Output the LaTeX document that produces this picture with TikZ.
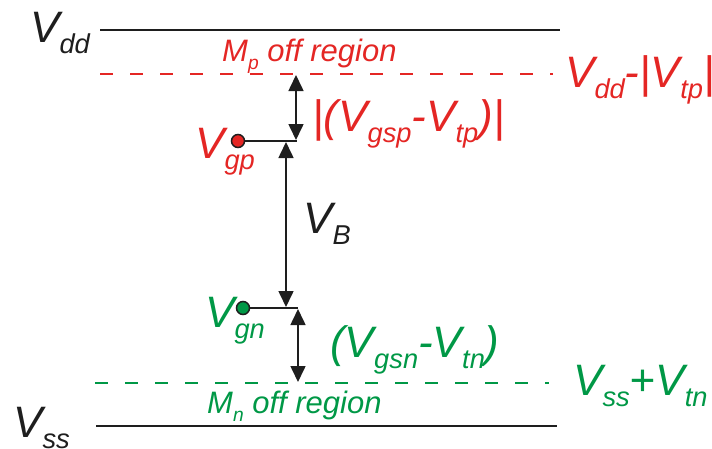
\documentclass[tikz,border=0pt]{standalone}
\usepackage{fontspec}
\setmainfont{Liberation Sans}
\usepackage{graphicx}
\usepackage{xcolor}
\usepackage{tikz}
\usetikzlibrary{positioning, arrows.meta}

\definecolor{pred}{RGB}{228,38,36}
\definecolor{ngreen}{RGB}{0,152,70}
\definecolor{rail}{RGB}{30,30,30}
\newcommand{\lo}[1]{\raisebox{-0.27em}{\scalebox{0.62}{#1}}}

\begin{document}
\begin{tikzpicture}[x=1pt, y=-1pt,
  railline/.style={line width=2pt, draw=rail},
  level/.style={line width=2pt, dash pattern=on 13pt off 17pt},
  gap/.style={line width=1.6pt, draw=rail,
    {Triangle[length=16pt,width=15pt]}-{Triangle[length=16pt,width=15pt]}},
  big/.style={inner sep=0pt, anchor=base west, font=\fontsize{44}{48}\selectfont\itshape},
  note/.style={inner sep=0pt, anchor=base west, font=\fontsize{31}{35}\selectfont\itshape},
  pin/.style={circle, inner sep=0pt, minimum size=13pt, line width=1.5pt, draw=rail}]
  \useasboundingbox (0,0) rectangle (712,448);

  % Supply rails and off-region levels
  \coordinate (dd-l) at (100,30);  \coordinate (dd-r) at (560,30);
  \coordinate (tp-l) at (100,74);  \coordinate (tp-r) at (553,74);
  \coordinate (tn-l) at (95,383);  \coordinate (tn-r) at (549,383);
  \coordinate (ss-l) at (96,426);  \coordinate (ss-r) at (557,426);
  \draw[railline] (dd-l) -- (dd-r);
  \draw[railline] (ss-l) -- (ss-r);
  \draw[level, pred] (tp-l) -- (tp-r);
  \draw[level, ngreen] (tn-l) -- (tn-r);

  % Gate bias points
  \node[pin, fill=pred] (gp) at (238,141) {};
  \node[pin, fill=ngreen] (gn) at (243,308) {};
  \coordinate (gp-end) at (297,141);
  \coordinate (gn-end) at (298,308);
  \draw[railline, line width=1.6pt] (gp) -- (gp-end);
  \draw[railline, line width=1.6pt] (gn) -- (gn-end);

  % Voltage gaps
  \coordinate (tp-tap) at (296,75);
  \coordinate (gp-tap) at (296,140);
  \coordinate (vb-top) at (286,142);
  \coordinate (vb-bot) at (286,307);
  \coordinate (gn-tap) at (298,309);
  \coordinate (tn-tap) at (298,382);
  \draw[gap] (tp-tap) -- (gp-tap);
  \draw[gap] (vb-top) -- (vb-bot);
  \draw[gap] (gn-tap) -- (tn-tap);

  % Labels
  \node[big, text=rail] (vdd) at (30,42) {V\lo{dd}};
  \node[big, text=rail] (vss) at (13,437) {V\lo{ss}};
  \node[note, text=pred] (poff) at (222,61) {M\lo{p} off region};
  \node[note, text=ngreen] (noff) at (207,413) {M\lo{n} off region};
  \node[big, text=pred] (vtp) at (565,87) {V\lo{dd}-|V\lo{tp}|};
  \node[big, text=ngreen] (vtn) at (573,395) {V\lo{ss}+V\lo{tn}};
  \node[big, text=pred] (vgp) at (195,158) {V\lo{gp}};
  \node[big, text=ngreen] (vgn) at (205,327) {V\lo{gn}};
  \node[big, text=pred] (odp) at (312,131) {|(V\lo{gsp}-V\lo{tp})|};
  \node[big, text=ngreen] (odn) at (330,357) {(V\lo{gsn}-V\lo{tn})};
  \node[big, text=rail] (vb) at (303,233) {V\lo{B}};
\end{tikzpicture}
\end{document}
